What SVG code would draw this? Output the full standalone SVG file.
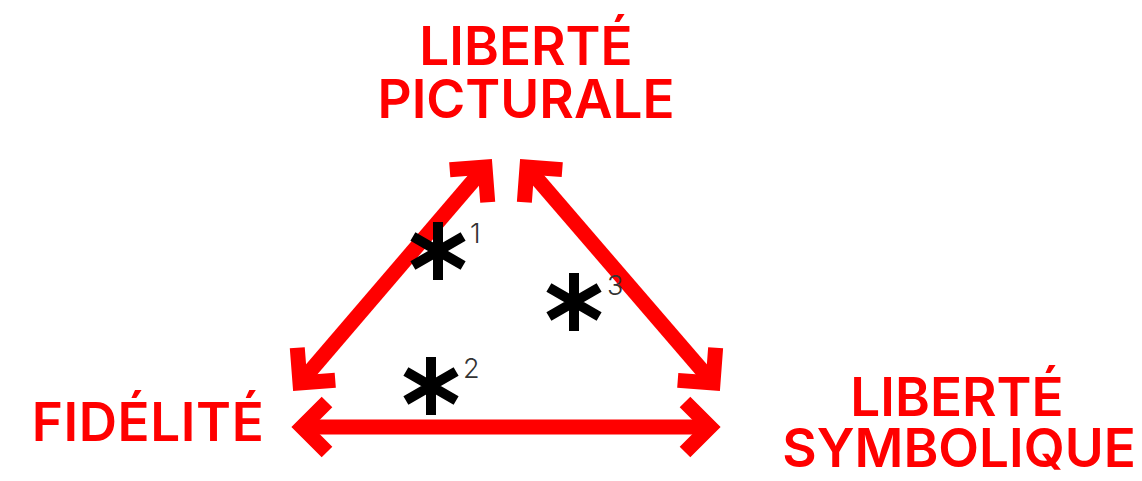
<svg xmlns="http://www.w3.org/2000/svg" width="1142" height="481" viewBox="0 0 1142 481">
  <style>
    .lbl { font-family: Inter, "Liberation Sans", sans-serif; font-weight: 600; font-size: 53px; fill: #ff0000; text-anchor: middle; }
    .sup { font-family: Inter, "Liberation Sans", sans-serif; font-weight: 300; font-size: 27px; fill: #333333; }
    .edge { stroke: #ff0000; stroke-width: 15; fill: none; marker-start: url(#chev); marker-end: url(#chev); }
    .ast { stroke: #000000; stroke-width: 10; fill: none; }
  </style>
  <defs>
    <marker id="chev" markerUnits="userSpaceOnUse" orient="auto-start-reverse" refX="0" refY="0" markerWidth="80" markerHeight="80" overflow="visible">
      <path d="M -25,-25 L 0,0 L -25,25" stroke="#ff0000" stroke-width="15" fill="none" stroke-linejoin="miter" stroke-miterlimit="4"/>
    </marker>
    <g id="asterisk">
      <path class="ast" d="M 0,-29 V 29 M -25.1,-14.5 L 25.1,14.5 M -25.1,14.5 L 25.1,-14.5"/>
    </g>
  </defs>
  <g id="connectors">
    <path class="edge" d="M 300,383 L 485,167"/>
    <path class="edge" d="M 527,167 L 713,383"/>
    <path class="edge" d="M 302,427 L 710,427"/>
  </g>
  <g id="node-picturale">
    <text class="lbl" x="526" y="65">LIBERTÉ<tspan x="526" dy="53">PICTURALE</tspan></text>
  </g>
  <g id="node-fidelite">
    <text class="lbl" x="148" y="441" letter-spacing="0.6">FIDÉLITÉ</text>
  </g>
  <g id="node-symbolique">
    <text class="lbl" x="957" y="416">LIBERTÉ<tspan x="959" dy="51">SYMBOLIQUE</tspan></text>
  </g>
  <g id="note-1">
    <use href="#asterisk" x="438" y="251"/>
    <text class="sup" x="470" y="243">1</text>
  </g>
  <g id="note-2">
    <use href="#asterisk" x="431" y="386"/>
    <text class="sup" x="463" y="378">2</text>
  </g>
  <g id="note-3">
    <use href="#asterisk" x="574" y="302"/>
    <text class="sup" x="607" y="295">3</text>
  </g>
</svg>
